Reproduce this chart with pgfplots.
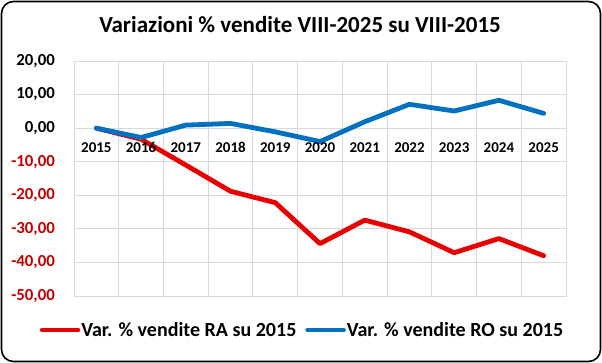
\documentclass[border=0pt]{standalone}
\usepackage{pgfplots}
\pgfplotsset{compat=1.18}
\usepackage{fontspec}
\setmainfont{Carlito}
\definecolor{rared}{HTML}{E80000}
\definecolor{roblue}{HTML}{0070C0}
\definecolor{negred}{HTML}{C00000}
\definecolor{gridgray}{HTML}{D9D9D9}
\begin{document}
\begin{tikzpicture}
\useasboundingbox (0pt,0pt) rectangle (602pt,363pt);
\draw[line width=1.6pt, rounded corners=12pt] (1.5pt,1.5pt) rectangle (600.5pt,361.5pt);
\node[anchor=base, font=\fontsize{23}{27}\selectfont\bfseries] at (300pt,330pt) {Variazioni \% vendite VIII-2025 su VIII-2015};
\begin{axis}[
  at={(74pt,67pt)}, anchor=south west,
  scale only axis, width=492pt, height=235pt,
  xmin=-0.5, xmax=10.5, ymin=-50, ymax=20,
  xtick={-0.5,0.5,...,10.5}, xticklabels={},
  ytick={-50,-40,...,20},
  yticklabels={{\textcolor{negred}{-50,00}},{\textcolor{negred}{-40,00}},{\textcolor{negred}{-30,00}},{\textcolor{negred}{-20,00}},{\textcolor{negred}{-10,00}},{0,00},{10,00},{20,00}},
  yticklabel style={font=\fontsize{16.8}{19}\selectfont\bfseries, anchor=east, inner sep=0pt, xshift=-19pt},
  major tick length=0pt,
  grid=major, grid style={draw=gridgray, line width=0.9pt},
  axis line style={draw=gridgray, line width=0.9pt},
  legend style={at={(axis description cs:0.4634,-0.1447)}, anchor=center, draw=none, fill=none,
    font=\fontsize{20}{23}\selectfont\bfseries, inner sep=0pt,
    /tikz/every even column/.append style={column sep=8pt},
    nodes={inner sep=1pt}},
  legend columns=2,
  legend image code/.code={\draw[#1, line width=4.5pt] (0pt,0pt) -- (36pt,0pt);},
]
\addplot[rared, line width=4.8pt, line join=round, line cap=round] coordinates {
 (0,0) (1,-3.3) (2,-11.0) (3,-18.8) (4,-22.2) (5,-34.4) (6,-27.4) (7,-30.9) (8,-37.1) (9,-32.9) (10,-38.0)};
\addlegendentry{Var. \% vendite RA su 2015}
\addplot[roblue, line width=4.8pt, line join=round, line cap=round] coordinates {
 (0,0) (1,-2.8) (2,0.9) (3,1.4) (4,-1.1) (5,-4.0) (6,1.9) (7,7.1) (8,5.1) (9,8.3) (10,4.4)};
\addlegendentry{Var. \% vendite RO su 2015}
\pgfplotsinvokeforeach{0,...,10}{
  \node[anchor=base, yshift=-24.7pt, font=\fontsize{15}{17}\selectfont\bfseries] at (axis cs:#1,0) {\pgfmathparse{int(2015+#1)}\pgfmathresult};
}
\end{axis}
\end{tikzpicture}
\end{document}
